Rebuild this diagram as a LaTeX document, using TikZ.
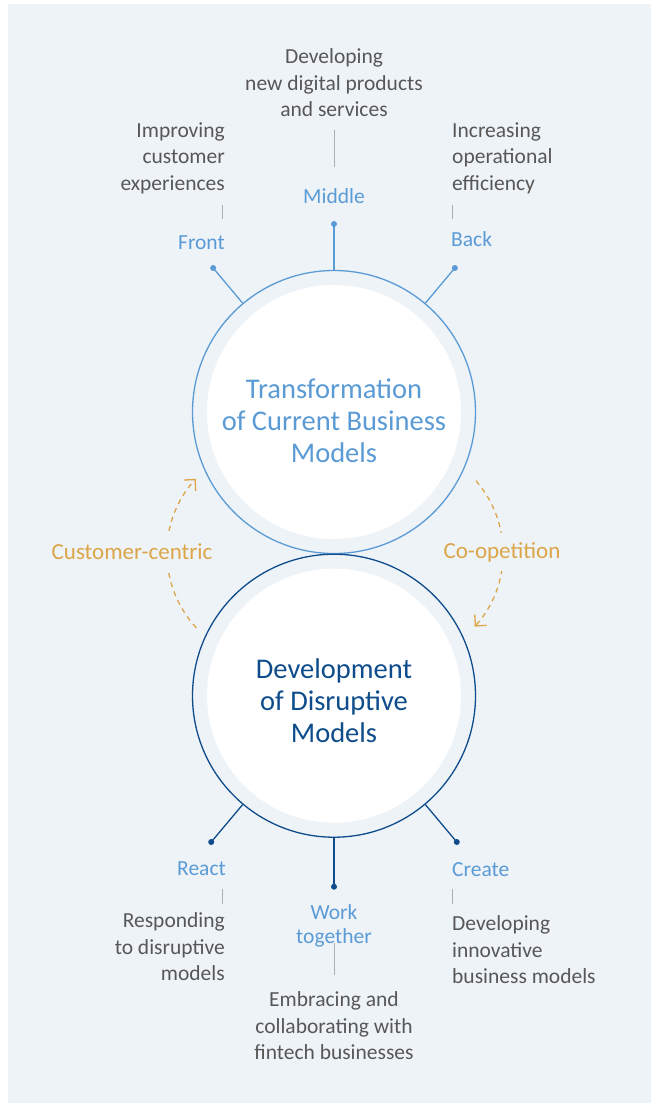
\documentclass[tikz,border=0pt]{standalone}
\usepackage{fontspec}
\setmainfont{Carlito}
\usetikzlibrary{arrows.meta}
\definecolor{bgc}{HTML}{EEF3F8}
\definecolor{lb}{HTML}{5B9BD5}
\definecolor{db}{HTML}{0E4C8B}
\definecolor{org}{HTML}{DCA548}
\definecolor{gtx}{HTML}{575757}
\definecolor{gln}{HTML}{AEAEAE}
\tikzset{
 desc/.style={font=\fontsize{21.5}{26.5}\selectfont, text=gtx, inner sep=0pt},
 lbl/.style={font=\fontsize{21.5}{24}\selectfont, text=lb, inner sep=0pt},
 ring/.style={circle, minimum size=283pt, inner sep=0pt, fill=bgc, line width=1.3pt},
 ctext/.style={font=\fontsize{28.5}{32}\selectfont, align=center, inner sep=0pt},
 spoke/.style={line width=1.3pt},
 tick/.style={draw=gln, line width=0.9pt},
 cyc/.style={draw=org, line width=1.3pt, dash pattern=on 5pt off 4.5pt, -{Straight Barb[length=8pt,width=16pt,line width=1.3pt]}},
 cyclbl/.style={font=\fontsize{23}{26}\selectfont, text=org, fill=bgc, inner xsep=3pt, inner ysep=9pt},
}
\begin{document}
\begin{tikzpicture}[x=1pt,y=-1pt]
\useasboundingbox (0,0) rectangle (651,1103);
\fill[bgc] (8,4) rectangle (651,1103);

% cycle arcs
\coordinate (lc) at (277,553);
\coordinate (rc) at (393,553);
\draw[cyc] ([shift={(222.8:110pt)}]lc) arc[start angle=222.8, end angle=137.6, radius=110pt];
\draw[cyc] ([shift={(41:110pt)}]rc) arc[start angle=41, end angle=-42, radius=110pt];
\node[cyclbl] (cc) at (132,552) {Customer-centric};
\node[cyclbl] (co) at (502,552) {Co-opetition};

% circles
\node[ring, draw=lb] (tc) at (334,412) {};
\node[ring, draw=db] (bc) at (334,695.7) {};
\fill[white] (tc.center) circle[radius=127pt];
\fill[white] (bc.center) circle[radius=127pt];
\node[ctext, text=lb] (tct) at (334,421) {Transformation\\of Current Business\\Models};
\node[ctext, text=db] (bct) at (334,701) {Development\\of Disruptive\\Models};

% top spokes
\coordinate (fd) at ([shift={(130:188pt)}]tc.center);
\coordinate (md) at ([shift={(90:188pt)}]tc.center);
\coordinate (bd) at ([shift={(50:188pt)}]tc.center);
\draw[spoke, draw=lb] (tc.130) -- (fd);
\draw[spoke, draw=lb] (tc.90) -- (md);
\draw[spoke, draw=lb] (tc.50) -- (bd);
\fill[lb] (fd) circle[radius=3pt];
\fill[lb] (md) circle[radius=3pt];
\fill[lb] (bd) circle[radius=3pt];

% bottom spokes
\coordinate (rd) at ([shift={(230:191pt)}]bc.center);
\coordinate (wd) at ([shift={(270:191pt)}]bc.center);
\coordinate (cd) at ([shift={(310:191pt)}]bc.center);
\draw[spoke, draw=db] (bc.230) -- (rd);
\draw[spoke, draw=db] (bc.270) -- (wd);
\draw[spoke, draw=db] (bc.310) -- (cd);
\fill[db] (rd) circle[radius=3pt];
\fill[db] (wd) circle[radius=3pt];
\fill[db] (cd) circle[radius=3pt];

% top labels
\node[lbl, anchor=east] (front) at (225,243) {Front};
\node[lbl] (middle) at (334,196) {Middle};
\node[lbl, anchor=west] (back) at (451,239) {Back};
\node[desc, anchor=east, align=right] (frontd) at (225,158) {Improving\\customer\\experiences};
\node[desc, align=center] (midd) at (334,83) {Developing\\new digital products\\and services};
\node[desc, anchor=west, align=left] (backd) at (452,158) {Increasing\\operational\\efficiency};

\coordinate (ft1) at (222,205); \coordinate (ft2) at (222,219);
\coordinate (mt1) at (334,130); \coordinate (mt2) at (334,167);
\coordinate (bt1) at (452,205); \coordinate (bt2) at (452,219);
\draw[tick] (ft1) -- (ft2);
\draw[tick] (mt1) -- (mt2);
\draw[tick] (bt1) -- (bt2);

% bottom labels
\coordinate (rt1) at (222,889); \coordinate (rt2) at (222,904);
\coordinate (wt1) at (334,943); \coordinate (wt2) at (334,975);
\coordinate (ct1) at (452,889); \coordinate (ct2) at (452,904);
\draw[tick] (rt1) -- (rt2);
\draw[tick] (wt1) -- (wt2);
\draw[tick] (ct1) -- (ct2);

\node[lbl, anchor=east] (react) at (226,869) {React};
\node[lbl, align=center] (work) at (334,926) {Work\\together};
\node[lbl, anchor=west] (create) at (452,870) {Create};
\node[desc, anchor=east, align=right] (reactd) at (225,947) {Responding\\to disruptive\\models};
\node[desc, align=center] (workd) at (334,1026) {Embracing and\\collaborating with\\fintech businesses};
\node[desc, anchor=west, align=left] (created) at (452,950) {Developing\\innovative\\business models};
\end{tikzpicture}
\end{document}
